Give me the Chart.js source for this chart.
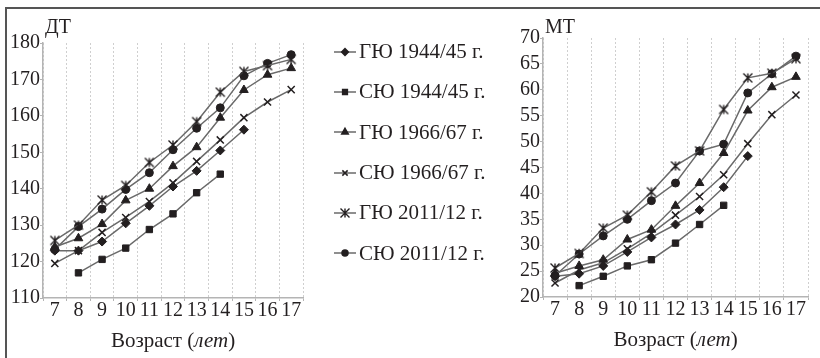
<!DOCTYPE html>
<html><head><meta charset="UTF-8">
<title>ДТ и МТ по возрасту</title>
<script src="https://cdn.jsdelivr.net/npm/chart.js"></script>
<style>
body{margin:0;background:#fff;font-family:'Liberation Serif',serif;color:#231f20}
.frame{position:absolute;left:5px;top:7px;width:815px;height:351px;border-left:2px solid #555;border-top:2px solid #555}
#dt{position:absolute;left:0;top:0}
#mt{position:absolute;left:505px;top:0}
#legend{position:absolute;left:334px;top:31.5px;margin:0;padding:0;list-style:none}
#legend li{height:40.3px;display:flex;align-items:center;font-size:21px;white-space:nowrap}
#legend canvas{margin-right:3px}
</style>
</head><body>
<div class="frame"></div>
<canvas id="dt" width="330" height="358"></canvas>
<ul id="legend"></ul>
<canvas id="mt" width="315" height="358"></canvas>
<script>
const ages = ['7', '8', '9', '10', '11', '12', '13', '14', '15', '16', '17'];
const seriesNames = ['ГЮ 1944/45 г.', 'СЮ 1944/45 г.', 'ГЮ 1966/67 г.', 'СЮ 1966/67 г.', 'ГЮ 2011/12 г.', 'СЮ 2011/12 г.'];

// ДТ, см
const dtGu1944 = [123, 123, 125.5, 130.5, 135.3, 140.6, 144.9, 150.5, 156.2, null, null];
const dtSu1944 = [null, 116.9, 120.6, 123.7, 128.8, 133.1, 138.9, 144, null, null, null];
const dtGu1966 = [124, 126.4, 130.3, 136.8, 140, 146.2, 151.4, 159.5, 167.1, 171.3, 173.1];
const dtSu1966 = [119.5, 123, 128, 132.1, 136.5, 141.6, 147.5, 153.4, 159.5, 163.8, 167.2];
const dtGu2011 = [125.8, 130, 136.9, 140.9, 147.2, 152, 158.4, 166.5, 172.2, 173.8, 175.5];
const dtSu2011 = [123.3, 129.6, 134.4, 139.8, 144.4, 150.7, 156.6, 162.2, 171, 174.4, 176.8];

// МТ, кг
const mtGu1944 = [24, 24.5, 26, 28.7, 31.5, 34, 36.8, 41.2, 47.2, null, null];
const mtSu1944 = [null, 22.2, 24, 26, 27.2, 30.4, 34, 37.7, null, null, null];
const mtGu1966 = [24.6, 26, 27.2, 31.1, 33, 37.6, 42, 47.8, 56, 60.5, 62.5];
const mtSu1966 = [22.7, 25.2, 26.6, 29.3, 32.3, 35.8, 39.4, 43.6, 49.6, 55.2, 59];
const mtGu2011 = [25.6, 28.4, 33.3, 35.8, 40.3, 45.3, 48.2, 56.2, 62.3, 63.2, 66];
const mtSu2011 = [24.1, 28.3, 31.8, 35, 38.6, 42, 48.2, 49.5, 59.4, 63.1, 66.5];

const dtTicks = [110, 180, 10];
const mtTicks = [20, 70, 5];

const INK = '#231f20';
const LINE = '#6a6a6a';
const AXIS = '#b4b4b4';
const FONT = 'Liberation Serif';

// звёздочка: X с вертикальной чертой
function starMarker(r) {
  const c = document.createElement('canvas');
  const s = Math.ceil(r * 2 + 3);
  c.width = c.height = s;
  const g = c.getContext('2d');
  const m = s / 2;
  g.strokeStyle = INK;
  g.lineWidth = 1.4;
  g.beginPath();
  g.moveTo(m - r, m - r); g.lineTo(m + r, m + r);
  g.moveTo(m + r, m - r); g.lineTo(m - r, m + r);
  g.moveTo(m, m - r); g.lineTo(m, m + r);
  g.stroke();
  return c;
}

const pointStyles = ['rectRot', 'rect', 'triangle', 'crossRot', starMarker(4.5), 'circle'];
const pointRadii = [4.5, 4.5, 5, 5, 5, 4];
const pointBorders = [1, 1, 1, 1.5, 1, 1];

function makeDatasets(series) {
  return series.map((data, i) => ({
    label: seriesNames[i],
    data,
    borderColor: LINE,
    borderWidth: 1.5,
    pointStyle: pointStyles[i],
    pointRadius: pointRadii[i],
    pointBackgroundColor: INK,
    pointBorderColor: INK,
    pointBorderWidth: pointBorders[i],
    tension: 0
  }));
}

// подписи: буквенное обозначение над осью и "Возраст (лет)" под осью
const captions = {
  id: 'captions',
  afterDraw(chart, args, opts) {
    const {ctx, chartArea} = chart;
    ctx.save();
    ctx.fillStyle = INK;
    ctx.textBaseline = 'alphabetic';
    ctx.textAlign = 'left';
    ctx.font = `20px "${FONT}"`;
    ctx.fillText(opts.corner, chartArea.left + 2, 33);

    const parts = [['Возраст (', ''], ['лет', 'italic '], [')', '']];
    const widths = parts.map(([t, st]) => { ctx.font = `${st}21px "${FONT}"`; return ctx.measureText(t).width; });
    let x = (chartArea.left + chartArea.right) / 2 - widths.reduce((a, b) => a + b, 0) / 2;
    parts.forEach(([t, st], i) => {
      ctx.font = `${st}21px "${FONT}"`;
      ctx.fillText(t, x, chartArea.bottom + 49);
      x += widths[i];
    });
    ctx.restore();
  }
};

function makeOptions(ticks, corner, padding) {
  const tickFont = { family: FONT, size: 20, lineHeight: 1 };
  return {
    responsive: false,
    animation: false,
    layout: { padding },
    plugins: { legend: { display: false }, tooltip: { enabled: false }, captions: { corner } },
    scales: {
      x: {
        offset: true,
        grid: { offset: true, color: '#cfcfcf', lineWidth: 1, tickLength: 3, tickColor: AXIS, tickBorderDash: [] },
        border: { color: AXIS, width: 1.5, dash: [2, 2] },
        ticks: { color: INK, font: tickFont, padding: 0, autoSkip: false, maxRotation: 0 }
      },
      y: {
        min: ticks[0], max: ticks[1],
        grid: { drawOnChartArea: false, tickLength: 3, tickColor: AXIS },
        border: { color: AXIS, width: 1.5 },
        ticks: { stepSize: ticks[2], color: INK, font: tickFont, padding: 0 }
      }
    }
  };
}

const dtChart = new Chart(document.getElementById('dt'), {
  type: 'line',
  data: { labels: ages, datasets: makeDatasets([dtGu1944, dtSu1944, dtGu1966, dtSu1966, dtGu2011, dtSu2011]) },
  options: makeOptions(dtTicks, 'ДТ', { left: 10, right: 27, top: 43, bottom: 37 }),
  plugins: [captions]
});

new Chart(document.getElementById('mt'), {
  type: 'line',
  data: { labels: ages, datasets: makeDatasets([mtGu1944, mtSu1944, mtGu1966, mtSu1966, mtGu2011, mtSu2011]) },
  options: makeOptions(mtTicks, 'МТ', { left: 15, right: 12, top: 38, bottom: 38 }),
  plugins: [captions]
});

// легенда между графиками
const legend = document.getElementById('legend');
dtChart.data.datasets.forEach(ds => {
  const li = document.createElement('li');
  const c = document.createElement('canvas');
  c.width = 22; c.height = 14;
  const g = c.getContext('2d');
  g.strokeStyle = LINE;
  g.lineWidth = 1.5;
  g.beginPath(); g.moveTo(0, 7); g.lineTo(22, 7); g.stroke();
  g.fillStyle = INK;
  g.strokeStyle = INK;
  Chart.helpers.drawPoint(g, { pointStyle: ds.pointStyle, radius: ds.pointRadius * 0.75, borderWidth: ds.pointBorderWidth, rotation: 0 }, 11, 7);
  li.appendChild(c);
  const span = document.createElement('span');
  span.textContent = ds.label;
  li.appendChild(span);
  legend.appendChild(li);
});
</script>
</body></html>
